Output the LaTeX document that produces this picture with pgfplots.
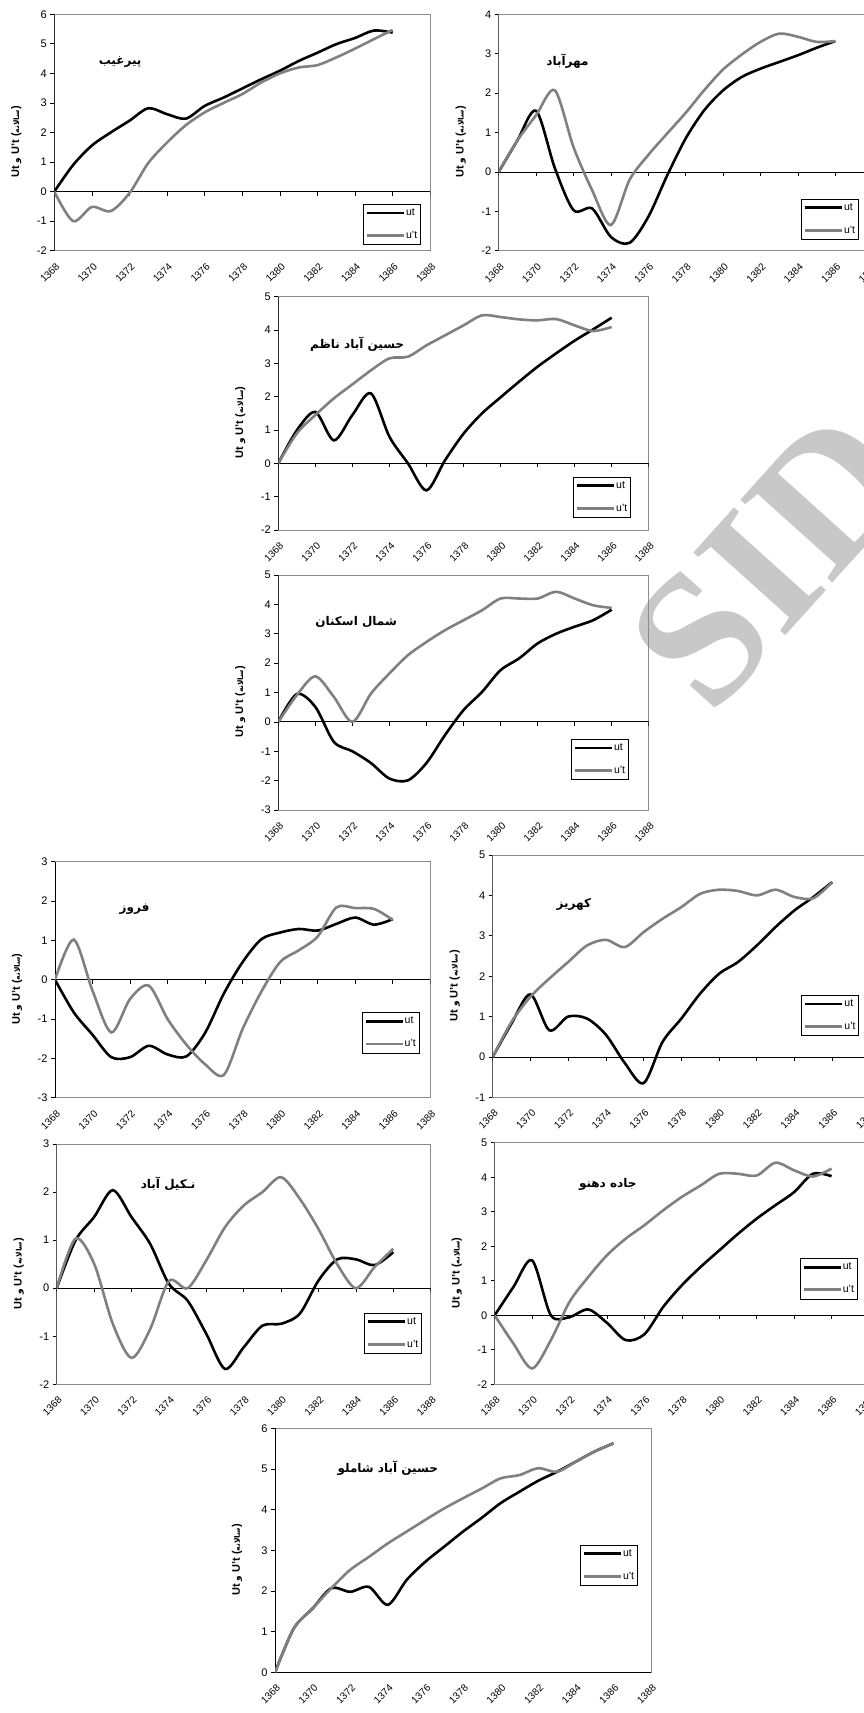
\documentclass[border=0pt]{standalone}
\usepackage{fontspec}
\setmainfont{Liberation Sans}
\usepackage{pgfplots}
\pgfplotsset{compat=1.18}
\TeXXeTstate=1
\newfontfamily\arabicfont[Script=Arabic]{DejaVu Sans}
\newfontfamily\wmfont{Liberation Serif}
\definecolor{ugray}{RGB}{128,128,128}
\definecolor{framegray}{RGB}{140,140,140}
\definecolor{wmgray}{RGB}{200,200,200}
\newcommand{\ylab}{\textbf{Ut} {\arabicfont\bfseries\fontsize{9}{10}\selectfont\beginR و\endR} \textbf{U't} \textbf{(}{\arabicfont\bfseries\fontsize{7.5}{9}\selectfont\beginR سالانه\endR}\textbf{)}}
\pgfplotsset{
  panel/.style={
    scale only axis, anchor=north west,
    xmin=1368, xmax=1388, xtick={1368,1370,...,1388},
    /pgf/number format/1000 sep={},
    /pgf/number format/assume math mode=true,
    yticklabel style={font=\fontsize{11}{13}\selectfont},
    xticklabel style={font=\fontsize{10}{12}\selectfont},
    axis line style={framegray, line width=0.8pt},
    xtick pos=bottom, ytick pos=left,
    x tick style={draw=none},
    y tick style={black, line width=0.7pt},
    tick align=outside, major tick length=4pt,
    xticklabel style={inner sep=0pt, xshift=3.5pt, yshift=-10pt, rotate=45, anchor=east},
    ylabel={\ylab},
    every axis y label/.style={at={(rel axis cs:0,0.46)}, xshift=-38pt, rotate=90, anchor=center, font=\fontsize{11}{13}\selectfont},
    legend style={draw=black, fill=white, font=\fontsize{10.5}{12}\selectfont, anchor=north west,
      inner xsep=2.5pt, inner ysep=4pt, nodes={inner sep=0.6pt}, row sep=13pt},
    legend cell align=left,
    legend image code/.code={\draw[##1, line width=2.8pt] (0pt,0pt) -- (37pt,0pt);},
  },
  ut/.style={black, line width=2.6pt, smooth, tension=0.5, mark=none},
  upt/.style={ugray, line width=2.6pt, smooth, tension=0.5, mark=none},
}
\newcommand{\zeroaxis}{%
  \draw[black, line width=0.8pt] (axis cs:1368,0) -- (axis cs:1388,0);
  \pgfplotsinvokeforeach{1368,1370,1372,1374,1376,1378,1380,1382,1384,1386,1388}{\draw[black, line width=0.7pt] (axis cs:##1,0) -- ++(0pt,-4pt);}
  \draw[black, line width=0.8pt] (rel axis cs:0,0) -- (rel axis cs:0,1);
}
\tikzset{ttlstyle/.style={font=\arabicfont\bfseries\fontsize{12}{14}\selectfont}}
\begin{document}
\begin{tikzpicture}[x=1pt,y=1pt]
% watermark
\node[wmgray, font=\wmfont\bfseries\fontsize{189}{189}\selectfont, rotate=48, inner sep=0pt] at (771pt,-560pt) {SID};
% Panel 1
\begin{axis}[panel, at={(54.3pt,-14.3pt)}, width=376pt, height=236.4pt, ymin=-2, ymax=6, ytick={-2,-1,...,6},
  legend style={at={(0.821,0.1975)}}]
\zeroaxis
\addplot[ut] coordinates {(1368,0)(1369,0.9)(1370,1.56)(1371,2.0)(1372,2.4)(1373,2.82)(1374,2.62)(1375,2.47)(1376,2.9)(1377,3.18)(1378,3.49)(1379,3.8)(1380,4.09)(1381,4.42)(1382,4.7)(1383,4.99)(1384,5.2)(1385,5.45)(1386,5.38)};
\addplot[upt] coordinates {(1368,0)(1369,-1.0)(1370,-0.52)(1371,-0.66)(1372,-0.05)(1373,0.97)(1374,1.66)(1375,2.25)(1376,2.68)(1377,3.0)(1378,3.3)(1379,3.69)(1380,4.0)(1381,4.2)(1382,4.28)(1383,4.54)(1384,4.84)(1385,5.16)(1386,5.47)};
\legend{ut,u't}
\node[ttlstyle] at (rel axis cs:0.175,0.798) {\beginR پیرغیب\endR};
\end{axis}
% Panel 2
\begin{axis}[panel, at={(498.7pt,-14.3pt)}, width=374pt, height=236.4pt, ymin=-2, ymax=4, ytick={-2,-1,...,4},
  legend style={at={(0.808,0.219)}}]
\zeroaxis
\addplot[ut] coordinates {(1368,0)(1369,0.8)(1370,1.55)(1371,0.1)(1372,-0.97)(1373,-0.93)(1374,-1.65)(1375,-1.8)(1376,-1.14)(1377,-0.1)(1378,0.85)(1379,1.57)(1380,2.07)(1381,2.41)(1382,2.62)(1383,2.79)(1384,2.96)(1385,3.15)(1386,3.32)};
\addplot[upt] coordinates {(1368,0)(1369,0.8)(1370,1.44)(1371,2.07)(1372,0.63)(1373,-0.47)(1374,-1.35)(1375,-0.2)(1376,0.43)(1377,0.97)(1378,1.5)(1379,2.08)(1380,2.6)(1381,2.98)(1382,3.3)(1383,3.51)(1384,3.43)(1385,3.3)(1386,3.32)};
\legend{ut,u't}
\node[ttlstyle] at (rel axis cs:0.184,0.80) {\beginR مهرآباد\endR};
\end{axis}
% Panel 3
\begin{axis}[panel, at={(278.3pt,-296.7pt)}, width=370.4pt, height=233.3pt, ymin=-2, ymax=5, ytick={-2,-1,...,5},
  legend style={at={(0.796,0.228)}}]
\zeroaxis
\addplot[ut] coordinates {(1368,0)(1369,0.99)(1370,1.54)(1371,0.69)(1372,1.45)(1373,2.1)(1374,0.8)(1375,0.0)(1376,-0.81)(1377,0.09)(1378,0.89)(1379,1.5)(1380,1.98)(1381,2.45)(1382,2.9)(1383,3.3)(1384,3.68)(1385,4.02)(1386,4.37)};
\addplot[upt] coordinates {(1368,0)(1369,0.9)(1370,1.45)(1371,1.95)(1372,2.37)(1373,2.79)(1374,3.15)(1375,3.2)(1376,3.54)(1377,3.84)(1378,4.14)(1379,4.44)(1380,4.39)(1381,4.32)(1382,4.29)(1383,4.33)(1384,4.14)(1385,3.97)(1386,4.09)};
\legend{ut,u't}
\node[ttlstyle] at (rel axis cs:0.213,0.797) {\beginR حسین آباد ناظم\endR};
\end{axis}
% Panel 4
\begin{axis}[panel, at={(278.3pt,-575pt)}, width=370.4pt, height=235pt, ymin=-3, ymax=5, ytick={-3,-2,...,5},
  legend style={at={(0.79,0.302)}}]
\zeroaxis
\addplot[ut] coordinates {(1368,0)(1369,0.95)(1370,0.51)(1371,-0.68)(1372,-1.0)(1373,-1.4)(1374,-1.93)(1375,-1.99)(1376,-1.4)(1377,-0.45)(1378,0.4)(1379,1.02)(1380,1.76)(1381,2.16)(1382,2.67)(1383,3.0)(1384,3.24)(1385,3.46)(1386,3.82)};
\addplot[upt] coordinates {(1368,0)(1369,0.91)(1370,1.55)(1371,0.85)(1372,0.0)(1373,0.96)(1374,1.65)(1375,2.27)(1376,2.72)(1377,3.12)(1378,3.46)(1379,3.8)(1380,4.2)(1381,4.2)(1382,4.2)(1383,4.43)(1384,4.2)(1385,3.97)(1386,3.88)};
\legend{ut,u't}
\node[ttlstyle] at (rel axis cs:0.21,0.801) {\beginR شمال اسکنان\endR};
\end{axis}
% Panel 5
\begin{axis}[panel, at={(55pt,-861.7pt)}, width=375.3pt, height=236pt, ymin=-3, ymax=3, ytick={-3,-2,...,3},
  legend style={at={(0.817,0.362)}}]
\zeroaxis
\addplot[ut] coordinates {(1368,0)(1369,-0.83)(1370,-1.4)(1371,-1.97)(1372,-1.97)(1373,-1.68)(1374,-1.9)(1375,-1.95)(1376,-1.35)(1377,-0.35)(1378,0.45)(1379,1.03)(1380,1.2)(1381,1.29)(1382,1.25)(1383,1.42)(1384,1.58)(1385,1.4)(1386,1.54)};
\addplot[upt] coordinates {(1368,0)(1369,1.02)(1370,-0.28)(1371,-1.34)(1372,-0.49)(1373,-0.15)(1374,-1.0)(1375,-1.65)(1376,-2.15)(1377,-2.42)(1378,-1.25)(1379,-0.3)(1380,0.45)(1381,0.75)(1382,1.1)(1383,1.84)(1384,1.82)(1385,1.8)(1386,1.52)};
\legend{ut,u't}
\node[ttlstyle] at (rel axis cs:0.212,0.798) {\beginR فروز\endR};
\end{axis}
% Panel 6
\begin{axis}[panel, at={(492.7pt,-855pt)}, width=377.3pt, height=242.3pt, ymin=-1, ymax=5, ytick={-1,0,...,5},
  legend style={at={(0.818,0.422)}}]
\zeroaxis
\addplot[ut] coordinates {(1368,0)(1369,0.83)(1370,1.55)(1371,0.66)(1372,1.0)(1373,0.95)(1374,0.55)(1375,-0.15)(1376,-0.65)(1377,0.37)(1378,0.95)(1379,1.57)(1380,2.06)(1381,2.35)(1382,2.76)(1383,3.22)(1384,3.63)(1385,3.96)(1386,4.33)};
\addplot[upt] coordinates {(1368,0)(1369,0.87)(1370,1.49)(1371,1.94)(1372,2.35)(1373,2.76)(1374,2.9)(1375,2.72)(1376,3.09)(1377,3.42)(1378,3.71)(1379,4.04)(1380,4.14)(1381,4.11)(1382,4.0)(1383,4.14)(1384,3.96)(1385,3.93)(1386,4.33)};
\legend{ut,u't}
\node[ttlstyle] at (rel axis cs:0.215,0.798) {\beginR کهریز\endR};
\end{axis}
% Panel 7
\begin{axis}[panel, at={(56.7pt,-1144pt)}, width=374pt, height=240.3pt, ymin=-2, ymax=3, ytick={-2,-1,...,3},
  legend style={at={(0.822,0.298)}}]
\zeroaxis
\addplot[ut] coordinates {(1368,0)(1369,0.99)(1370,1.48)(1371,2.04)(1372,1.48)(1373,0.92)(1374,0.09)(1375,-0.26)(1376,-0.95)(1377,-1.68)(1378,-1.23)(1379,-0.78)(1380,-0.74)(1381,-0.53)(1382,0.16)(1383,0.6)(1384,0.6)(1385,0.48)(1386,0.75)};
\addplot[upt] coordinates {(1368,0)(1369,1.03)(1370,0.51)(1371,-0.74)(1372,-1.45)(1373,-0.85)(1374,0.15)(1375,0.0)(1376,0.58)(1377,1.27)(1378,1.72)(1379,2.0)(1380,2.31)(1381,1.86)(1382,1.23)(1383,0.5)(1384,0.0)(1385,0.44)(1386,0.82)};
\legend{ut,u't}
\node[ttlstyle] at (rel axis cs:0.298,0.836) {\beginR نـکیل آباد\endR};
\end{axis}
% Panel 8
\begin{axis}[panel, at={(494.7pt,-1142.7pt)}, width=374.3pt, height=241.6pt, ymin=-2, ymax=5, ytick={-2,-1,...,5},
  legend style={at={(0.815,0.522)}}]
\zeroaxis
\addplot[ut] coordinates {(1368,0)(1369,0.82)(1370,1.59)(1371,0.0)(1372,-0.05)(1373,0.17)(1374,-0.22)(1375,-0.72)(1376,-0.55)(1377,0.24)(1378,0.87)(1379,1.4)(1380,1.88)(1381,2.36)(1382,2.8)(1383,3.19)(1384,3.57)(1385,4.1)(1386,4.03)};
\addplot[upt] coordinates {(1368,0)(1369,-0.82)(1370,-1.54)(1371,-0.72)(1372,0.39)(1373,1.11)(1374,1.74)(1375,2.22)(1376,2.61)(1377,3.04)(1378,3.43)(1379,3.76)(1380,4.1)(1381,4.1)(1382,4.05)(1383,4.42)(1384,4.2)(1385,4.02)(1386,4.25)};
\legend{ut,u't}
\node[ttlstyle] at (rel axis cs:0.302,0.829) {\beginR جاده دهنو\endR};
\end{axis}
% Panel 9
\begin{axis}[panel, at={(275pt,-1428.3pt)}, width=376pt, height=244pt, ymin=0, ymax=6, ytick={0,1,...,6},
  legend style={at={(0.811,0.522)}}]
\zeroaxis
\addplot[ut] coordinates {(1368,0)(1369,1.08)(1370,1.57)(1371,2.07)(1372,1.98)(1373,2.1)(1374,1.66)(1375,2.27)(1376,2.72)(1377,3.09)(1378,3.46)(1379,3.8)(1380,4.16)(1381,4.44)(1382,4.71)(1383,4.93)(1384,5.18)(1385,5.43)(1386,5.63)};
\addplot[upt] coordinates {(1368,0)(1369,1.08)(1370,1.57)(1371,2.07)(1372,2.52)(1373,2.84)(1374,3.17)(1375,3.46)(1376,3.75)(1377,4.03)(1378,4.28)(1379,4.52)(1380,4.77)(1381,4.85)(1382,5.02)(1383,4.93)(1384,5.18)(1385,5.43)(1386,5.63)};
\legend{ut,u't}
\node[ttlstyle] at (rel axis cs:0.30,0.836) {\beginR حسین آباد شاملو\endR};
\end{axis}
\pgfresetboundingbox
\useasboundingbox (0pt,0pt) rectangle (864pt,-1713pt);
\end{tikzpicture}
\end{document}
